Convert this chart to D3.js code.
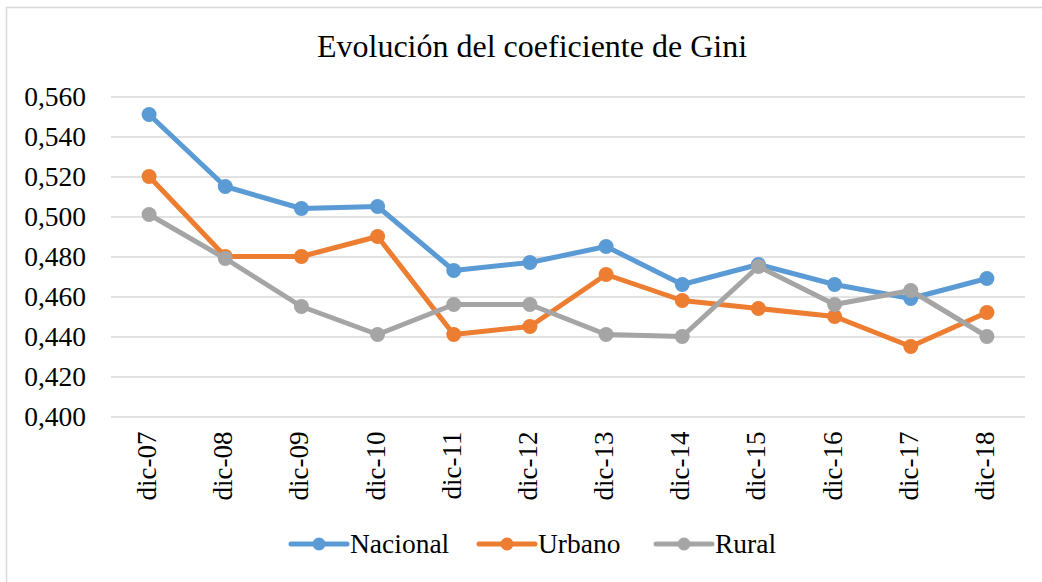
<!DOCTYPE html>
<html>
<head>
<meta charset="utf-8">
<script src="https://cdn.jsdelivr.net/npm/d3@7/dist/d3.min.js"></script>
<style>
  html, body { margin: 0; padding: 0; background: #fff; }
  svg { display: block; }
  svg text { font-family: "Liberation Serif", "Times New Roman", Tinos, "DejaVu Serif", serif !important; }
</style>
</head>
<body>
<svg id="chart" width="1042" height="582"></svg>
<script>
const categories = ["dic-07","dic-08","dic-09","dic-10","dic-11","dic-12","dic-13","dic-14","dic-15","dic-16","dic-17","dic-18"];
const nacional = [0.551, 0.515, 0.504, 0.505, 0.473, 0.477, 0.485, 0.466, 0.476, 0.466, 0.459, 0.469];
const urbano   = [0.520, 0.480, 0.480, 0.490, 0.441, 0.445, 0.471, 0.458, 0.454, 0.450, 0.435, 0.452];
const rural    = [0.501, 0.479, 0.455, 0.441, 0.456, 0.456, 0.441, 0.440, 0.475, 0.456, 0.463, 0.440];
const yTicks = [0.400, 0.420, 0.440, 0.460, 0.480, 0.500, 0.520, 0.540, 0.560];
const seriesNames = ["Nacional", "Urbano", "Rural"];
const seriesColors = ["#5B9BD5", "#ED7D31", "#A5A5A5"];
const title = "Evolución del coeficiente de Gini";

const series = [nacional, urbano, rural].map((vals, i) => ({
  name: seriesNames[i], color: seriesColors[i], values: vals
}));

const svg = d3.select("#chart");
const W = 1042, H = 582;
const plot = { left: 111, right: 1025, top: 96.5, bottom: 416.5 };

// outer border
svg.append("rect")
  .attr("x", 6.5).attr("y", 7.5)
  .attr("width", W).attr("height", H)
  .attr("fill", "#fff")
  .attr("stroke", "#D9D9D9").attr("stroke-width", 1.5);

// title
svg.append("text")
  .attr("x", 532).attr("y", 57)
  .attr("text-anchor", "middle")
  .style("font-size", "32px")
  .attr("fill", "#000")
  .text(title);

const x = d3.scaleBand().domain(categories).range([plot.left, plot.right]).padding(0);
const y = d3.scaleLinear().domain([0.400, 0.560]).range([plot.bottom, plot.top]);
const fmt = v => d3.format(".3f")(v).replace(".", ",");

// gridlines + y labels
const yAxis = d3.axisLeft(y).tickValues(yTicks).tickFormat(fmt)
  .tickSize(-(plot.right - plot.left)).tickPadding(25);
const gy = svg.append("g")
  .attr("transform", `translate(${plot.left},0)`)
  .call(yAxis);
gy.select(".domain").remove();
gy.selectAll(".tick line").attr("stroke", "#D9D9D9").attr("stroke-width", 1.5);
gy.selectAll(".tick text")
  .style("font-size", "27.5px").attr("fill", "#000");

// x axis labels
const xAxis = d3.axisBottom(x).tickSize(0).tickPadding(0);
const gx = svg.append("g")
  .attr("transform", `translate(0,${plot.bottom})`)
  .call(xAxis);
gx.select(".domain").remove();
gx.selectAll(".tick text")
  .style("font-size", "27px").attr("fill", "#000")
  .attr("text-anchor", "end")
  .attr("dy", null)
  .attr("transform", "translate(7,15) rotate(-90)");

// lines
const cx = (d, i) => x(categories[i]) + x.bandwidth() / 2;
const line = d3.line().x((d, i) => cx(d, i)).y(d => y(d));

const gs = svg.append("g").selectAll("g").data(series).join("g");
gs.append("path")
  .attr("d", d => line(d.values))
  .attr("fill", "none")
  .attr("stroke", d => d.color)
  .attr("stroke-width", 5)
  .attr("stroke-linejoin", "round")
  .attr("stroke-linecap", "round");
gs.each(function(s) {
  d3.select(this).selectAll("circle").data(s.values).join("circle")
    .attr("cx", (d, i) => cx(d, i))
    .attr("cy", d => y(d))
    .attr("r", 7.5)
    .attr("fill", s.color);
});

// legend
const legendX = [291, 479, 656];
const lg = svg.append("g").selectAll("g").data(series).join("g")
  .attr("transform", (d, i) => `translate(${legendX[i]},544)`);
lg.append("line")
  .attr("x1", 0).attr("x2", 56).attr("y1", 0).attr("y2", 0)
  .attr("stroke", d => d.color).attr("stroke-width", 5)
  .attr("stroke-linecap", "round");
lg.append("circle").attr("cx", 28).attr("cy", 0).attr("r", 6.5)
  .attr("fill", d => d.color);
lg.append("text")
  .attr("x", 59).attr("y", 9)
  .style("font-size", "27.5px").attr("fill", "#000")
  .text(d => d.name);
</script>
</body>
</html>
